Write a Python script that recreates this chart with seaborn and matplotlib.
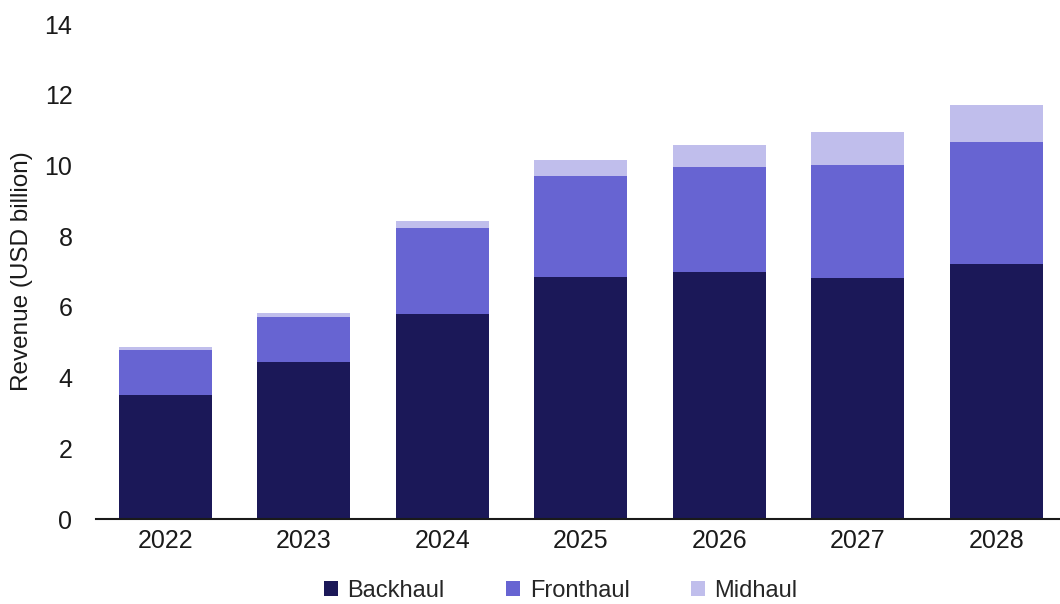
import matplotlib
matplotlib.use("Agg")
import matplotlib.pyplot as plt
import seaborn as sns
import numpy as np
import pandas as pd
from matplotlib.patches import Patch

years = ["2022", "2023", "2024", "2025", "2026", "2027", "2028"]
backhaul = [3.51, 4.44, 5.80, 6.84, 6.99, 6.82, 7.21]
fronthaul = [1.27, 1.27, 2.43, 2.86, 2.96, 3.19, 3.45]
midhaul = [0.08, 0.12, 0.20, 0.45, 0.63, 0.93, 1.05]

colors = {"Backhaul": "#1B1858", "Fronthaul": "#6764D2", "Midhaul": "#C0BEEC"}

sns.set_theme(style="white")
plt.rcParams['font.family'] = ['Liberation Sans', 'DejaVu Sans']

fig = plt.figure(figsize=(10.6, 6.04), dpi=100)
ax = fig.add_axes([0.0906, 0.1407, 0.9094, 0.8193])

df = pd.DataFrame({"year": years, "Backhaul": backhaul,
                   "Fronthaul": fronthaul, "Midhaul": midhaul})
bottom = np.zeros(len(years))
for name in ["Backhaul", "Fronthaul", "Midhaul"]:
    sns.barplot(data=df, x="year", y=name, color=colors[name], ax=ax,
                width=0.67, bottom=bottom, saturation=1,
                edgecolor="none", linewidth=0)
    bottom = bottom + df[name].values

ax.set_ylim(0, 14)
ax.set_yticks(range(0, 15, 2))
ax.set_xlim(-0.5, 6.46)
ax.set_xlabel("")
ax.set_ylabel("Revenue (USD billion)", fontsize=17.5, color="#1a1a1a", labelpad=8)
ax.tick_params(axis="y", labelsize=18, colors="#1a1a1a", length=0, pad=17)
ax.tick_params(axis="x", labelsize=18, colors="#1a1a1a", length=0, pad=7)
for s in ["top", "right", "left"]:
    ax.spines[s].set_visible(False)
ax.spines["bottom"].set_color("#1a1a1a")
ax.spines["bottom"].set_linewidth(1.5)
ax.grid(False)

handles = [Patch(facecolor=colors[n], edgecolor="none", label=n)
           for n in ["Backhaul", "Fronthaul", "Midhaul"]]
fig.legend(handles=handles, loc="center", bbox_to_anchor=(0.529, 0.022),
           ncol=3, frameon=False, fontsize=17, handlelength=0.6, handleheight=0.6,
           handletextpad=0.4, columnspacing=2.6)

fig.savefig("out.png", dpi=100)
